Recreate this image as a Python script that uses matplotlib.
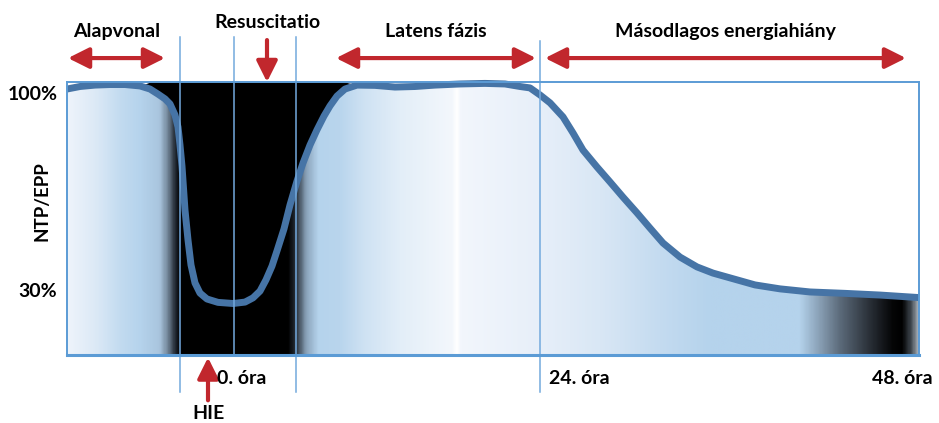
import matplotlib
matplotlib.use("Agg")
import matplotlib.pyplot as plt
import numpy as np
from matplotlib.colors import LinearSegmentedColormap
from matplotlib.patches import FancyArrowPatch

plt.rcParams["font.family"] = ["Lato", "DejaVu Sans"]
plt.rcParams["font.weight"] = "bold"

# ------------------------------------------------------------------
# Data
# x: position along the time axis (frame spans 0..852), y: NTP/EPP [%]
# ------------------------------------------------------------------
pos = np.array([0, 13, 28, 43, 58, 73, 83, 91, 98, 103, 108, 111, 113, 115,
                118, 121, 124, 128, 133, 140, 151, 166, 178, 186, 193, 199,
                205, 210, 217, 223, 230, 236, 243, 250, 257, 263, 270, 278,
                290, 308, 328, 348, 368, 393, 418, 438, 453, 463, 473, 483,
                496, 506, 516, 530, 543, 556, 570, 583, 596, 613, 630, 646,
                663, 688, 713, 743, 778, 813, 852])
ntp = np.array([101.4, 102.3, 102.8, 103.0, 103.0, 102.5, 101.4, 99.6, 97.9,
                96.1, 92.2, 87.9, 81.5, 74.0, 58.4, 47.8, 38.9, 32.5, 28.9,
                26.8, 25.6, 25.2, 25.7, 27.2, 29.6, 33.6, 38.5, 43.9, 51.7,
                60.2, 68.7, 75.1, 81.5, 86.9, 91.8, 95.4, 98.9, 101.4, 102.8,
                102.7, 102.1, 102.3, 102.8, 103.2, 103.4, 103.2, 102.3, 101.8,
                99.3, 96.5, 91.5, 85.8, 79.7, 73.7, 68.4, 63.0, 57.4, 52.0,
                46.7, 41.7, 38.2, 36.0, 34.3, 31.8, 30.4, 29.3, 28.8, 28.2,
                27.3])

y_ticks = [30, 100]
y_tick_labels = ["30%", "100%"]

phase_labels = ["Alapvonal", "Latens fázis", "Másodlagos energiahiány"]
phase_spans = [(1, 98), (269, 469), (478, 839)]

time_labels = ["0. óra", "24. óra", "48. óra"]
time_marks = [167, 473, 852]
dividers = [113, 167, 229, 473]

ischemia_span = (80, 278)      # black (energy failure) zone above the curve
resus_at = 200
hie_at = 141

# ------------------------------------------------------------------
# Styling
# ------------------------------------------------------------------
X_MAX = 852
Y_LO, Y_HI = 6.9, 103.9
curve_color = "#4674a6"
frame_color = "#5b9bd5"
divider_color = "#73a9dd"
arrow_color = "#c1272d"

# colour stops of the fill under the curve (position, colour)
fill_stops = [
    (0, "#eef4fb"), (28, "#dce9f6"), (53, "#c2dbf0"), (73, "#b5d3ec"),
    (92, "#a9c5de"), (100, "#74889b"), (108, "#1e252e"), (113, "#000000"),
    (221, "#000000"), (229, "#2a323c"), (239, "#8aa3ba"), (251, "#b5d3ec"),
    (273, "#b9d5ed"), (298, "#cfe2f3"), (333, "#e3eef8"), (385, "#f3f7fc"),
    (390, "#ffffff"), (394, "#f2f6fc"), (473, "#e7eff9"), (533, "#d9e7f5"),
    (593, "#c4dbf0"), (643, "#b5d3ec"), (733, "#b5d3ec"), (748, "#94adc4"),
    (773, "#5d6c7c"), (803, "#2a3038"), (826, "#050607"), (836, "#000000"),
    (845, "#404850"), (852, "#a8b0b8"),
]

fig = plt.figure(figsize=(9.39, 4.23), dpi=100)
ax = fig.add_axes([67 / 939, 68 / 423, 852 / 939, 273 / 423])
ax.set_xlim(0, X_MAX)
ax.set_ylim(Y_LO, Y_HI)

# gradient under the curve
cmap = LinearSegmentedColormap.from_list(
    "fill", [(p / X_MAX, c) for p, c in fill_stops], N=1024)
grad = ax.imshow(np.linspace(0, 1, 1200)[None, :], cmap=cmap, aspect="auto",
                 extent=[0, X_MAX, Y_LO, Y_HI], interpolation="bilinear",
                 zorder=1)
under = ax.fill_between(pos, Y_LO, ntp, facecolor="none", edgecolor="none")
grad.set_clip_path(under.get_paths()[0], transform=ax.transData)

# black zone above the curve
ax.fill_between(pos, ntp, Y_HI,
                where=(pos >= ischemia_span[0]) & (pos <= ischemia_span[1]),
                interpolate=True, color="black", linewidth=0, zorder=1.5)

# the curve
ax.plot(pos, ntp, color=curve_color, linewidth=5, solid_capstyle="butt",
        solid_joinstyle="round", zorder=3, clip_on=False)

# vertical dividers
y_top, y_bot = 120.0, -6.3
for d in dividers:
    lo = Y_LO if d == 167 else y_bot
    ax.plot([d, d], [lo, y_top if d != 473 else 118.5], color=divider_color,
            linewidth=1.1, zorder=4, clip_on=False)

# frame
for s in ax.spines.values():
    s.set_color(frame_color)
    s.set_linewidth(1.4)
    s.set_zorder(5)
ax.spines["bottom"].set_linewidth(2.2)

ax.set_xticks([])
ax.set_yticks(y_ticks)
ax.set_yticklabels(y_tick_labels, fontsize=14, fontweight="bold")
ax.tick_params(axis="y", length=0, pad=7)
ax.set_ylabel("NTP/EPP", fontsize=13.5, fontweight="bold")
ax.yaxis.set_label_coords(-0.019, 0.564)

# phase arrows and labels
arrow_y = 112.4
for label, (a, b) in zip(phase_labels, phase_spans):
    ax.add_patch(FancyArrowPatch((a, arrow_y), (b, arrow_y),
                                 arrowstyle="<|-|>,head_length=0.9,head_width=0.45",
                                 mutation_scale=14, color=arrow_color,
                                 linewidth=3, clip_on=False, shrinkA=0,
                                 shrinkB=0))
    ax.text((a + b) / 2, 121.8, label, fontsize=14, fontweight="bold",
            ha="center", va="center", clip_on=False)

ax.add_patch(FancyArrowPatch((resus_at, 118.8), (resus_at, Y_HI),
                             arrowstyle="-|>,head_length=0.9,head_width=0.45",
                             mutation_scale=14, color=arrow_color, linewidth=3,
                             clip_on=False, shrinkA=0, shrinkB=0))
ax.text(resus_at, 124.9, "Resuscitatio", fontsize=14, fontweight="bold",
        ha="center", va="center", clip_on=False)

ax.add_patch(FancyArrowPatch((hie_at, -9.2), (hie_at, 6.0),
                             arrowstyle="-|>,head_length=0.9,head_width=0.45",
                             mutation_scale=14, color=arrow_color, linewidth=3,
                             clip_on=False, shrinkA=0, shrinkB=0))
ax.text(hie_at, -10.8, "HIE", fontsize=14, fontweight="bold",
        ha="center", va="top", clip_on=False)

# time labels
for label, m in zip(time_labels, time_marks):
    if m == X_MAX:
        ax.text(m + 14, -1.3, label, fontsize=14, fontweight="bold",
                ha="right", va="center", clip_on=False)
    else:
        ax.text(m + (-17 if m == 167 else 9), -1.3, label, fontsize=14,
                fontweight="bold", ha="left", va="center", clip_on=False)

fig.savefig("out.png", dpi=100)
